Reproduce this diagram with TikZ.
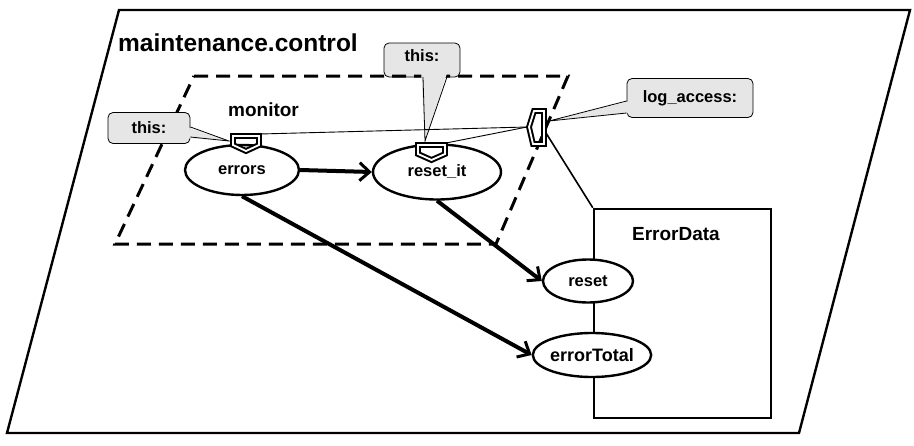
\documentclass[tikz,border=0pt]{standalone}
\usepackage{fontspec}
\setmainfont{Liberation Sans}
\usetikzlibrary{arrows.meta,shapes.geometric}
\definecolor{callgray}{HTML}{E6E6E6}
\begin{document}
\begin{tikzpicture}[x=1pt,y=-1pt,
  lbl/.style={font=\bfseries\fontsize{16.5}{19}\selectfont, inner sep=0pt},
  biglbl/.style={font=\bfseries\fontsize{19}{22}\selectfont, inner sep=0pt},
  obj/.style={ellipse, draw, line width=2.4pt, fill=white, inner sep=0pt, font=\bfseries\fontsize{16.5}{19}\selectfont},
  frame/.style={line width=2.4pt},
  dframe/.style={line width=3pt, dash pattern=on 14pt off 8pt},
  port/.style={draw, double=white, double distance=1.8pt, line width=2pt, line join=miter},
  callout/.style={draw, line width=0.8pt, fill=callgray, rounded corners=5pt, inner sep=0pt, font=\bfseries\fontsize{16.5}{19}\selectfont},
  ptr/.style={fill=callgray},
  ptrline/.style={line width=0.8pt},
  flow/.style={line width=4pt, -{Straight Barb[length=10pt,width=18pt,line width=3pt]}},
  thin/.style={line width=0.9pt}
]
\useasboundingbox (0,0) rectangle (914,445);
% outer frame
\coordinate (o1) at (119,10);
\coordinate (o2) at (910,10);
\coordinate (o3) at (799,433);
\coordinate (o4) at (7,433);
\draw[frame] (o1) -- (o2) -- (o3) -- (o4) -- cycle;
\node[anchor=west, font=\bfseries\fontsize{24.5}{28}\selectfont, inner sep=0pt] (title) at (118,43) {maintenance.control};

% top callout (behind dashed line)
\node[callout, minimum width=76pt, minimum height=34pt] (c2) at (422,60) {};
\node[lbl] (c2t) at (422,56) {this:};

% dashed frame
\coordinate (d1) at (194,76);
\coordinate (d2) at (568,76);
\coordinate (d3) at (496,244);
\coordinate (d4) at (115,244);
\draw[dframe] (d1) -- (d2) -- (d3) -- (d4) -- cycle;
\node[biglbl] (monitor) at (263.5,110) {monitor};

% top callout pointer
\coordinate (c2tip) at (425,141);
\fill[ptr] (421,70) -- (448,70) -- (c2tip) -- cycle;
\draw[ptrline] (423,77) -- (c2tip) -- (447,77);

% left callout
\node[callout, minimum width=82pt, minimum height=31pt] (c1) at (149,128) {this:};
\coordinate (c1tip) at (229,141);
\fill[ptr] (186,127) -- (186,138) -- (c1tip) -- cycle;
\draw[ptrline] (c1.east |- 0,127) -- (c1tip) -- (c1.east |- 0,137);

% log_access callout
\node[callout, minimum width=126pt, minimum height=39pt] (c3) at (690,98) {log\_access:};
\coordinate (c3tip) at (549,121);
\fill[ptr] (630,101) -- (630,113) -- (c3tip) -- cycle;
\draw[ptrline] (c3.west |- 0,101) -- (c3tip) -- (c3.west |- 0,113);

% ErrorData box
\node[draw, line width=2.4pt, minimum width=177pt, minimum height=209pt, inner sep=0pt] (box) at (682.5,313.5) {};
\node[biglbl] (boxname) at (676,234) {ErrorData};

% ellipses
\node[obj, minimum width=114pt, minimum height=50pt] (errors) at (242,170) {errors};
\node[obj, minimum width=128pt, minimum height=55pt] (resetit) at (437,172) {reset\_it};
\node[obj, minimum width=90pt, minimum height=43pt] (reset) at (588,281) {reset};
\node[obj, minimum width=110pt, minimum height=44pt, font=\bfseries\fontsize{18}{21}\selectfont] (errtot) at (592,355) {errorTotal};

% ports
\draw[port] (233,136) -- (259,136) -- (259,145) -- (246,151) -- (233,145) -- cycle;
\coordinate (perr) at (260,134);
\draw[port] (418,145) -- (445,145) -- (445,154) -- (431.5,160) -- (418,154) -- cycle;
\coordinate (prst) at (446,143);
\draw[port] (534,111) -- (544,111) -- (544,144) -- (533,144) -- (529,127) -- cycle;
\coordinate (plog) at (527,127);
\coordinate (plogout) at (546,133);

% thin connectors
\draw[thin] (perr) -- (plog);
\draw[thin] (prst) -- (plog);
\draw[line width=1.6pt] (plogout) -- (box.north west);

% flows
\draw[flow] (errors.east) -- (resetit.west);
\draw[flow] (errors.south) -- (errtot.west);
\draw[flow] (resetit.south) -- (reset.west);
\end{tikzpicture}
\end{document}
